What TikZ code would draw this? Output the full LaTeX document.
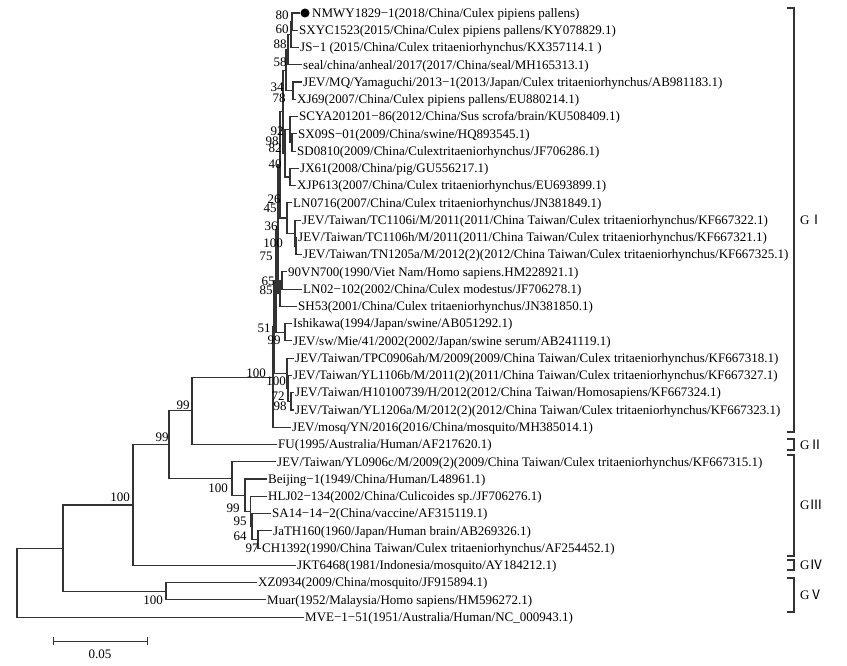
\documentclass[tikz,border=0pt]{standalone}
\usepackage{fontspec}
\setmainfont{Liberation Serif}
\newfontfamily\cjkfont{Noto Sans CJK SC}
\begin{document}
\begin{tikzpicture}[x=1pt,y=-1pt,
 br/.style={line width=1.1pt,draw=black!80},
 leaf/.style={anchor=west,inner xsep=1.5pt,inner ysep=0pt,font=\fontsize{13}{15}\selectfont,text height=9.5pt,text depth=1pt},
 bs/.style={inner sep=0pt,font=\fontsize{13}{15}\selectfont},
 grp/.style={anchor=west,inner sep=0pt,font=\fontsize{13}{15}\selectfont},
 brk/.style={line width=1.1pt,draw=black!80}]
\useasboundingbox (0,0) rectangle (847,666);
% ---------- leaves ----------
\node[circle,fill=black,inner sep=0pt,minimum size=9pt] (dot) at (305,13) {};
\node[leaf] (l0) at (310.5,13) {NMWY1829−1(2018/China/Culex pipiens pallens)};
\node[leaf] (l1) at (297.5,30.26) {SXYC1523(2015/China/Culex pipiens pallens/KY078829.1)};
\node[leaf] (l2) at (298.5,47.52) {JS−1 (2015/China/Culex tritaeniorhynchus/KX357114.1 )};
\node[leaf] (l3) at (301.5,64.78) {seal/china/anheal/2017(2017/China/seal/MH165313.1)};
\node[leaf] (l4) at (301.5,82.04) {JEV/MQ/Yamaguchi/2013−1(2013/Japan/Culex tritaeniorhynchus/AB981183.1)};
\node[leaf] (l5) at (295.5,99.3) {XJ69(2007/China/Culex pipiens pallens/EU880214.1)};
\node[leaf] (l6) at (297.5,116.56) {SCYA201201−86(2012/China/Sus scrofa/brain/KU508409.1)};
\node[leaf] (l7) at (296.5,133.82) {SX09S−01(2009/China/swine/HQ893545.1)};
\node[leaf] (l8) at (295.5,151.08) {SD0810(2009/China/Culextritaeniorhynchus/JF706286.1)};
\node[leaf] (l9) at (298.5,168.34) {JX61(2008/China/pig/GU556217.1)};
\node[leaf] (l10) at (295.5,185.6) {XJP613(2007/China/Culex tritaeniorhynchus/EU693899.1)};
\node[leaf] (l11) at (291.5,202.86) {LN0716(2007/China/Culex tritaeniorhynchus/JN381849.1)};
\node[leaf] (l12) at (300.5,220.12) {JEV/Taiwan/TC1106i/M/2011(2011/China Taiwan/Culex tritaeniorhynchus/KF667322.1)};
\node[leaf] (l13) at (296.5,237.38) {JEV/Taiwan/TC1106h/M/2011(2011/China Taiwan/Culex tritaeniorhynchus/KF667321.1)};
\node[leaf] (l14) at (301.5,254.64) {JEV/Taiwan/TN1205a/M/2012(2)(2012/China Taiwan/Culex tritaeniorhynchus/KF667325.1)};
\node[leaf] (l15) at (286.5,271.9) {90VN700(1990/Viet Nam/Homo sapiens.HM228921.1)};
\node[leaf] (l16) at (301.5,289.16) {LN02−102(2002/China/Culex modestus/JF706278.1)};
\node[leaf] (l17) at (296.5,306.42) {SH53(2001/China/Culex tritaeniorhynchus/JN381850.1)};
\node[leaf] (l18) at (291.5,323.68) {Ishikawa(1994/Japan/swine/AB051292.1)};
\node[leaf] (l19) at (291.5,340.94) {JEV/sw/Mie/41/2002(2002/Japan/swine serum/AB241119.1)};
\node[leaf] (l20) at (293.5,358.2) {JEV/Taiwan/TPC0906ah/M/2009(2009/China Taiwan/Culex tritaeniorhynchus/KF667318.1)};
\node[leaf] (l21) at (291.5,375.46) {JEV/Taiwan/YL1106b/M/2011(2)(2011/China Taiwan/Culex tritaeniorhynchus/KF667327.1)};
\node[leaf] (l22) at (293.5,392.72) {JEV/Taiwan/H10100739/H/2012(2012/China Taiwan/Homosapiens/KF667324.1)};
\node[leaf] (l23) at (293.5,409.98) {JEV/Taiwan/YL1206a/M/2012(2)(2012/China Taiwan/Culex tritaeniorhynchus/KF667323.1)};
\node[leaf] (l24) at (290.5,427.24) {JEV/mosq/YN/2016(2016/China/mosquito/MH385014.1)};
\node[leaf] (l25) at (276.5,444.5) {FU(1995/Australia/Human/AF217620.1)};
\node[leaf] (l26) at (275.5,461.76) {JEV/Taiwan/YL0906c/M/2009(2)(2009/China Taiwan/Culex tritaeniorhynchus/KF667315.1)};
\node[leaf] (l27) at (266.5,479.02) {Beijing−1(1949/China/Human/L48961.1)};
\node[leaf] (l28) at (266.5,496.28) {HLJ02−134(2002/China/Culicoides sp./JF706276.1)};
\node[leaf] (l29) at (270.5,513.54) {SA14−14−2(China/vaccine/AF315119.1)};
\node[leaf] (l30) at (271.5,530.8) {JaTH160(1960/Japan/Human brain/AB269326.1)};
\node[leaf] (l31) at (260.5,548.06) {CH1392(1990/China Taiwan/Culex tritaeniorhynchus/AF254452.1)};
\node[leaf] (l32) at (295.5,565.32) {JKT6468(1981/Indonesia/mosquito/AY184212.1)};
\node[leaf] (l33) at (256.5,582.58) {XZ0934(2009/China/mosquito/JF915894.1)};
\node[leaf] (l34) at (265.5,599.84) {Muar(1952/Malaysia/Homo sapiens/HM596272.1)};
\node[leaf] (l35) at (303.5,617.1) {MVE−1−51(1951/Australia/Human/NC\_000943.1)};
% ---------- internal nodes ----------
\coordinate (N1) at (292,21.63);
\coordinate (N2) at (291,34.58);
\coordinate (N3) at (288,49.68);
\coordinate (N5) at (293,90.67);
\coordinate (N4) at (286,70.18);
\coordinate (S1) at (292,142.45);
\coordinate (S2) at (290,129.5);
\coordinate (J) at (290,176.97);
\coordinate (S3) at (285,153.24);
\coordinate (M1) at (283,111.71);
\coordinate (TCb) at (296,246.01);
\coordinate (TCa) at (295,233.07);
\coordinate (L1) at (287,217.97);
\coordinate (M2) at (280,164.84);
\coordinate (V1) at (282,280.53);
\coordinate (V2) at (280,293.48);
\coordinate (gC) at (278,229.16);
\coordinate (Ish) at (285,332.31);
\coordinate (gB) at (276,280.74);
\coordinate (T3) at (291,401.35);
\coordinate (T2) at (288,388.41);
\coordinate (T1) at (287,373.3);
\coordinate (gA) at (274,327.02);
\coordinate (g0) at (273,377.13);
\coordinate (D) at (192,410.82);
\coordinate (G3e) at (258,539.43);
\coordinate (G3d) at (252,526.49);
\coordinate (G3c) at (250.5,511.39);
\coordinate (G3b) at (245,495.2);
\coordinate (G3) at (232,478.48);
\coordinate (C) at (169,444.65);
\coordinate (B) at (133,504.99);
\coordinate (GV) at (166,591.21);
\coordinate (A) at (63,548.1);
\coordinate (R) at (17,582.6);
% ---------- branches ----------
\draw[br] (N1) |- (dot); \draw[br] (N1) |- (l1.west);
\draw[br] (N2) |- (N1); \draw[br] (N2) |- (l2.west);
\draw[br] (N3) |- (N2); \draw[br] (N3) |- (l3.west);
\draw[br] (N5) |- (l4.west); \draw[br] (N5) |- (l5.west);
\draw[br] (N4) |- (N3); \draw[br] (N4) |- (N5);
\draw[br] (S1) |- (l7.west); \draw[br] (S1) |- (l8.west);
\draw[br] (S2) |- (l6.west); \draw[br] (S2) |- (S1);
\draw[br] (J) |- (l9.west); \draw[br] (J) |- (l10.west);
\draw[br] (S3) |- (S2); \draw[br] (S3) |- (J);
\draw[br] (M1) |- (N4); \draw[br] (M1) |- (S3);
\draw[br] (TCb) |- (l13.west); \draw[br] (TCb) |- (l14.west);
\draw[br] (TCa) |- (l12.west); \draw[br] (TCa) |- (TCb);
\draw[br] (L1) |- (l11.west); \draw[br] (L1) |- (TCa);
\draw[br] (M2) |- (M1); \draw[br] (M2) |- (L1);
\draw[br] (V1) |- (l15.west); \draw[br] (V1) |- (l16.west);
\draw[br] (V2) |- (V1); \draw[br] (V2) |- (l17.west);
\draw[br] (gC) |- (M2); \draw[br] (gC) |- (V2);
\draw[br] (Ish) |- (l18.west); \draw[br] (Ish) |- (l19.west);
\draw[br] (gB) |- (gC); \draw[br] (gB) |- (Ish);
\draw[br] (T3) |- (l22.west); \draw[br] (T3) |- (l23.west);
\draw[br] (T2) |- (l21.west); \draw[br] (T2) |- (T3);
\draw[br] (T1) |- (l20.west); \draw[br] (T1) |- (T2);
\draw[br] (gA) |- (gB); \draw[br] (gA) |- (T1);
\draw[br] (g0) |- (gA); \draw[br] (g0) |- (l24.west);
\draw[br] (D) |- (g0); \draw[br] (D) |- (l25.west);
\draw[br] (G3e) |- (l30.west); \draw[br] (G3e) |- (l31.west);
\draw[br] (G3d) |- (l29.west); \draw[br] (G3d) |- (G3e);
\draw[br] (G3c) |- (l28.west); \draw[br] (G3c) |- (G3d);
\draw[br] (G3b) |- (l27.west); \draw[br] (G3b) |- (G3c);
\draw[br] (G3) |- (l26.west); \draw[br] (G3) |- (G3b);
\draw[br] (C) |- (D); \draw[br] (C) |- (G3);
\draw[br] (B) |- (C); \draw[br] (B) |- (l32.west);
\draw[br] (GV) |- (l33.west); \draw[br] (GV) |- (l34.west);
\draw[br] (A) |- (B); \draw[br] (A) |- (GV);
\draw[br] (R) |- (A); \draw[br] (R) |- (l35.west);
% ---------- bootstrap values ----------
\node[bs] (b1) at (282,15) {80};
\node[bs] (b2) at (282,29) {60};
\node[bs] (b3) at (280,44) {88};
\node[bs] (b4) at (280,62) {58};
\node[bs] (b5) at (277,87) {34};
\node[bs] (b6) at (279,98) {78};
\node[bs] (b7) at (277,131) {92};
\node[bs] (b8) at (272,141) {98};
\node[bs] (b9) at (275,148) {82};
\node[bs] (b10) at (275,164) {40};
\node[bs] (b11) at (274,199) {26};
\node[bs] (b12) at (270,208) {45};
\node[bs] (b13) at (271,226) {36};
\node[bs] (b14) at (273,243) {100};
\node[bs] (b15) at (266,256) {75};
\node[bs] (b16) at (268,281) {65};
\node[bs] (b17) at (266,290) {85};
\node[bs] (b18) at (264,328) {51};
\node[bs] (b19) at (274,340) {99};
\node[bs] (b20) at (256,373) {100};
\node[bs] (b21) at (276,381) {100};
\node[bs] (b22) at (278,396) {72};
\node[bs] (b23) at (280,406) {98};
\node[bs] (b24) at (183,405) {99};
\node[bs] (b25) at (162,437) {99};
\node[bs] (b26) at (120,497) {100};
\node[bs] (b27) at (218,488) {100};
\node[bs] (b28) at (233,508) {99};
\node[bs] (b29) at (240,521) {95};
\node[bs] (b30) at (240,536) {64};
\node[bs] (b31) at (252,548) {97};
\node[bs] (b32) at (153,600) {100};
% ---------- genotype brackets ----------
\draw[brk] (787,8) -- (794,8) -- (794,432) -- (787,432);
\node[grp] (g1) at (800,220) {G\cjkfont Ⅰ};
\draw[brk] (787,439) -- (794,439) -- (794,450) -- (787,450);
\node[grp] (g2) at (800,444.5) {G\cjkfont Ⅱ};
\draw[brk] (787,455) -- (794,455) -- (794,556) -- (787,556);
\node[grp] (g3) at (800,505) {G\cjkfont Ⅲ};
\draw[brk] (787,560) -- (794,560) -- (794,570) -- (787,570);
\node[grp] (g4) at (800,565) {G\cjkfont Ⅳ};
\draw[brk] (787,578) -- (794,578) -- (794,612) -- (787,612);
\node[grp] (g5) at (800,595) {G\cjkfont Ⅴ};
% ---------- scale bar ----------
\coordinate (sb1) at (53,641);
\coordinate (sb2) at (147,641);
\draw[br,line width=0.9pt] (sb1) -- (sb2);
\draw[br,line width=0.9pt] ([yshift=-4pt]sb1) -- ([yshift=4pt]sb1);
\draw[br,line width=0.9pt] ([yshift=-4pt]sb2) -- ([yshift=4pt]sb2);
\node[bs] (sbl) at (100,654) {0.05};
\end{tikzpicture}
\end{document}
